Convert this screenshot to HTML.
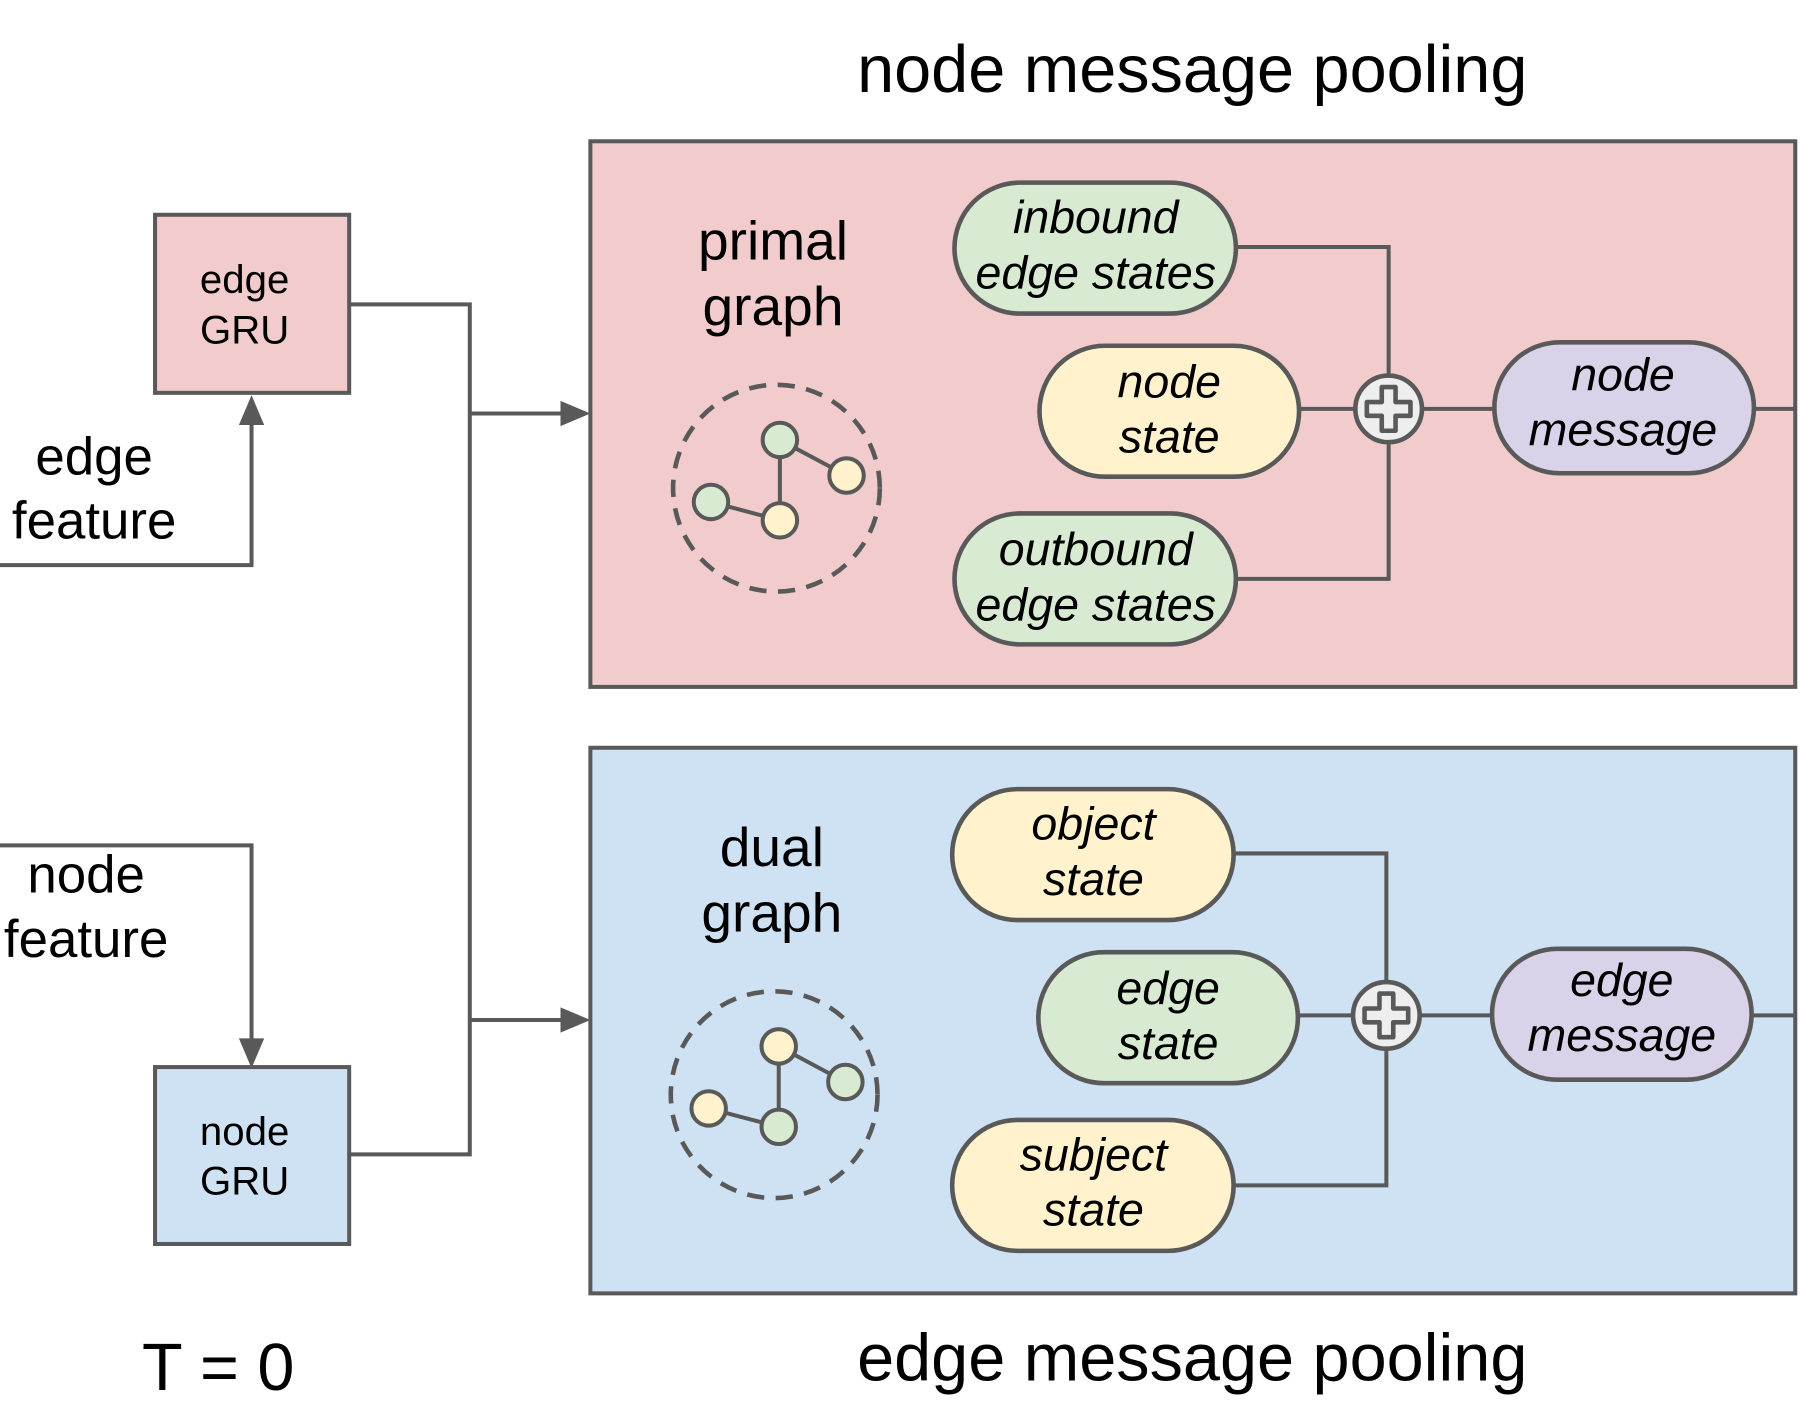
<!DOCTYPE html>
<html><head><meta charset="utf-8"><style>html,body{margin:0;padding:0;background:#fff}svg{display:block}</style></head><body>
<svg width="1801" height="1425" viewBox="0 0 1568 1240.6" preserveAspectRatio="none" xmlns="http://www.w3.org/2000/svg" font-family="Liberation Sans, Arial, sans-serif">
<defs>
<g id="plus"><circle r="29" fill="#eeeeee" stroke="#595959" stroke-width="4"/><path d="M-6,-19 h12 v13 h13 v12 h-13 v13 h-12 v-13 h-13 v-12 h13 z" fill="#eeeeee" stroke="#595959" stroke-width="4" stroke-linejoin="round"/></g>
</defs>
<g fill="#000" text-anchor="middle">
<text x="1038" y="80" font-size="58">node message pooling</text>
<text x="1038" y="1202" font-size="58">edge message pooling</text>
<text x="190" y="1210" font-size="58">T = 0</text>
</g>
<rect x="514" y="123" width="1049" height="475" fill="#f2cccc" stroke="#595959" stroke-width="3.5"/>
<rect x="514" y="651" width="1049" height="475" fill="#cfe2f3" stroke="#595959" stroke-width="3.5"/>
<rect x="135" y="187" width="169" height="155" fill="#f2cccc" stroke="#595959" stroke-width="3.5"/>
<rect x="135" y="929" width="169" height="154" fill="#cfe2f3" stroke="#595959" stroke-width="3.5"/>
<g fill="none" stroke="#595959" stroke-width="3.5">
<path d="M304,265 H409 V1005 H304"/>
<path d="M409,360 H490"/>
<path d="M409,888 H490"/>
<path d="M0,492 H219 V368"/>
<path d="M0,736 H219 V906"/>
<path d="M1076,215 H1209 V504 H1076 M1131,356 H1301 M1527,356 H1563"/>
<path d="M1074,743 H1207 V1032 H1074 M1130,884 H1299 M1525,884 H1563"/>
</g>
<g fill="#595959">
<polygon points="488,349 514,360 488,371"/>
<polygon points="488,877 514,888 488,899"/>
<polygon points="208,370 219,344 230,370"/>
<polygon points="208,904 219,930 230,904"/>
</g>
<g text-anchor="middle" font-size="35">
<text x="213" y="255">edge</text><text x="213" y="299">GRU</text>
<text x="213" y="997">node</text><text x="213" y="1040">GRU</text>
</g>
<g text-anchor="middle" font-size="46">
<text x="82" y="413">edge</text><text x="82" y="469">feature</text>
<text x="75" y="777">node</text><text x="75" y="833">feature</text>
</g>
<g text-anchor="middle" font-size="48">
<text x="673" y="226">primal</text><text x="673" y="283">graph</text>
<text x="672" y="754">dual</text><text x="672" y="811">graph</text>
</g>
<g stroke="#595959" stroke-width="3.5">
<circle cx="676" cy="425" r="90" fill="none" stroke-dasharray="15,10" stroke-width="4"/>
<path d="M679,383 V453 M679,383 L737,414 M619,437 L679,453"/>
<circle cx="679" cy="383" r="15" fill="#d9ead3"/><circle cx="737" cy="414" r="15" fill="#fff2cc"/>
<circle cx="619" cy="437" r="15" fill="#d9ead3"/><circle cx="679" cy="453" r="15" fill="#fff2cc"/>
<circle cx="674" cy="953" r="90" fill="none" stroke-dasharray="15,10" stroke-width="4"/>
<path d="M678,911 V981 M678,911 L736,942 M617,965 L678,981"/>
<circle cx="678" cy="911" r="15" fill="#fff2cc"/><circle cx="736" cy="942" r="15" fill="#d9ead3"/>
<circle cx="617" cy="965" r="15" fill="#fff2cc"/><circle cx="678" cy="981" r="15" fill="#d9ead3"/>
</g>
<g stroke="#595959" stroke-width="4">
<rect x="831" y="159" width="245" height="114" rx="57" fill="#d9ead3"/>
<rect x="905" y="301" width="226" height="114" rx="57" fill="#fff2cc"/>
<rect x="831" y="447" width="245" height="114" rx="57" fill="#d9ead3"/>
<rect x="1301" y="298" width="226" height="114" rx="57" fill="#d9d2e9"/>
<rect x="829" y="687" width="245" height="114" rx="57" fill="#fff2cc"/>
<rect x="904" y="829" width="226" height="114" rx="57" fill="#d9ead3"/>
<rect x="829" y="975" width="245" height="114" rx="57" fill="#fff2cc"/>
<rect x="1299" y="826" width="226" height="114" rx="57" fill="#d9d2e9"/>
</g>
<use href="#plus" x="1209" y="356"/>
<use href="#plus" x="1207" y="884"/>
<g text-anchor="middle" font-size="40.5" font-style="italic">
<text x="954" y="203">inbound</text><text x="954" y="251">edge states</text>
<text x="1018" y="346">node</text><text x="1018" y="394">state</text>
<text x="954" y="492">outbound</text><text x="954" y="540">edge states</text>
<text x="1413" y="340">node</text><text x="1413" y="388">message</text>
<text x="952" y="731">object</text><text x="952" y="779">state</text>
<text x="1017" y="874">edge</text><text x="1017" y="922">state</text>
<text x="952" y="1019">subject</text><text x="952" y="1067">state</text>
<text x="1412" y="867">edge</text><text x="1412" y="915">message</text>
</g>
</svg>
</body></html>
